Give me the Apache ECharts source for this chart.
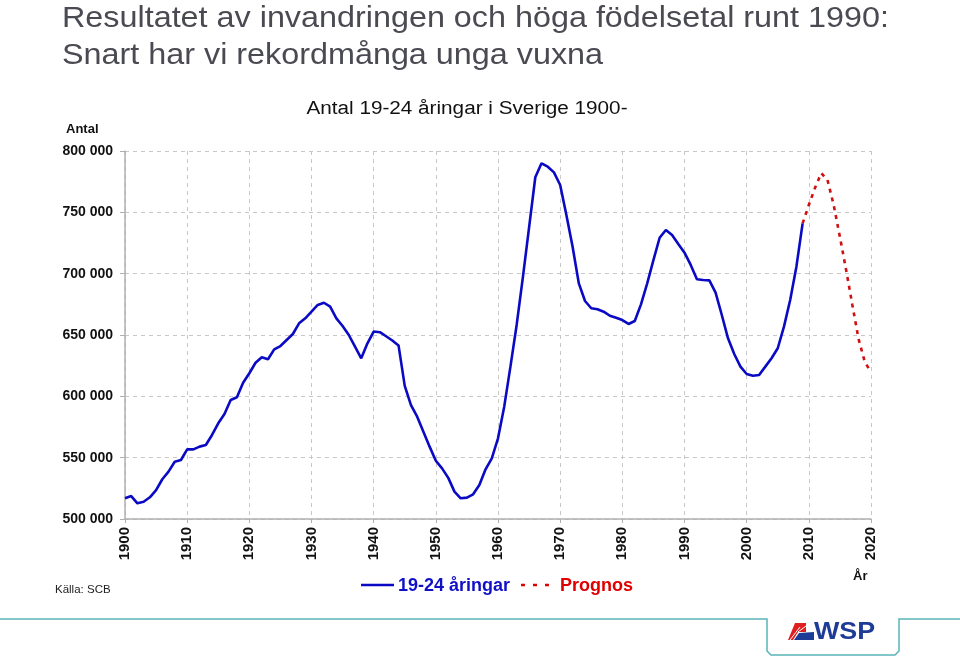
<!DOCTYPE html>
<html>
<head>
<meta charset="utf-8">
<script src="https://cdn.jsdelivr.net/npm/echarts@6/dist/echarts.min.js"></script>
<style>
html,body{margin:0;padding:0;background:#fff;}
#chart{width:960px;height:659px;}
</style>
</head>
<body>
<div id="chart"></div>
<script>
// ---- data ----
const actualStartYear = 1900;
const actualValues = [
  517000, 518700, 512800, 514100, 517700, 523600, 532400, 538600, 546700, 548100,
  556800, 556800, 559000, 560300, 568500, 578000, 585600, 597000, 599200, 611100,
  618800, 627400, 631800, 630200, 638300, 641000, 645900, 650800, 659500, 663600,
  669000, 674500, 676300, 673100, 663600, 657300, 650000, 640500, 631000, 643200,
  652800, 652300, 649000, 645500, 641500, 608500, 592900, 583400, 571200, 559000,
  547500, 541300, 533500, 522300, 516900, 517400, 520100, 527700, 540500, 549500,
  565800, 591600, 624200, 658200, 697000, 737800, 778600, 790000, 787200, 782600,
  772300, 747800, 722000, 692100, 677700, 671800, 671000, 669000, 665700, 664100,
  662200, 659000, 661400, 675000, 692100, 711100, 729300, 735600, 731500, 724200,
  717100, 707100, 695400, 694800, 694500, 684500, 666300, 647300, 634500, 624200,
  618200, 616800, 617400, 624200, 631000, 639200, 656800, 678500, 705700, 741000
];
const prognosStartYear = 2009;
const prognosValues = [741000, 756000, 770000, 782000, 776400, 756000, 729900, 703000, 674500, 646800, 628000, 619800];
const xTicks = [1900, 1910, 1920, 1930, 1940, 1950, 1960, 1970, 1980, 1990, 2000, 2010, 2020];
const yTicks = [500000, 550000, 600000, 650000, 700000, 750000, 800000];

const seriesNames = ['19-24 åringar', 'Prognos'];
const titleLines = ['Resultatet av invandringen och höga födelsetal runt 1990:', 'Snart har vi rekordmånga unga vuxna'];
const chartTitle = 'Antal 19-24 åringar i Sverige 1900-';

const actualData = actualValues.map((v, i) => [actualStartYear + i, v]);
const prognosData = prognosValues.map((v, i) => [prognosStartYear + i, v]);

const FONT = '"Liberation Sans", Arial, Helvetica, sans-serif';
const BLUE = '#0a0ac4';
const RED = '#d01010';
const chart = echarts.init(document.getElementById('chart'), null, {renderer: 'canvas'});

function fmt(v) {
  return String(v).replace(/\B(?=(\d{3})+(?!\d))/g, ' ');
}

chart.setOption({
  animation: false,
  backgroundColor: '#ffffff',
  textStyle: {fontFamily: FONT},
  grid: {left: 125, right: 89, top: 151, bottom: 140, containLabel: false},
  legend: {show: false, data: seriesNames},
  xAxis: {
    type: 'value', min: 1900, max: 2020, interval: 10,
    axisLine: {show: true, lineStyle: {color: '#b0b0b0', width: 1.5}},
    axisTick: {show: true, length: 4, lineStyle: {color: '#b0b0b0'}},
    axisLabel: {
      rotate: 90, margin: 8, color: '#111', fontFamily: FONT, fontSize: 15, fontWeight: 'bold',
      formatter: v => xTicks.includes(v) ? String(v) : ''
    },
    splitLine: {show: true, lineStyle: {color: '#c8c8c8', type: [4, 4], width: 1}}
  },
  yAxis: {
    type: 'value', min: 500000, max: 800000, interval: 50000,
    axisLine: {show: true, lineStyle: {color: '#b0b0b0', width: 1.5}},
    axisTick: {show: true, length: 5, lineStyle: {color: '#b0b0b0'}},
    axisLabel: {
      margin: 12, color: '#111', fontFamily: FONT, fontSize: 14, fontWeight: 'bold',
      formatter: v => yTicks.includes(v) ? fmt(v) : ''
    },
    splitLine: {show: true, lineStyle: {color: '#c8c8c8', type: [4, 4], width: 1}}
  },
  series: [
    {
      name: seriesNames[0], type: 'line', data: actualData,
      symbol: 'none', smooth: false,
      lineStyle: {color: BLUE, width: 2.6},
      itemStyle: {color: BLUE},
      z: 3
    },
    {
      name: seriesNames[1], type: 'line', data: prognosData,
      symbol: 'none', smooth: false,
      lineStyle: {color: RED, width: 2.6, type: [4, 5]},
      itemStyle: {color: RED},
      z: 2
    }
  ],
  graphic: [
    // slide title
    {type: 'text', x: 62, y: 4, scaleX: 1.115, originX: 0,
      style: {text: titleLines[0], font: '29px ' + FONT, fill: '#4a4a52'}},
    {type: 'text', x: 62, y: 41, scaleX: 1.115, originX: 0,
      style: {text: titleLines[1], font: '29px ' + FONT, fill: '#4a4a52'}},
    // chart title
    {type: 'text', x: 467, y: 100, scaleX: 1.15, originX: 0,
      style: {text: chartTitle, font: '18px ' + FONT, fill: '#111', align: 'center'}},
    {type: 'text', left: 66, top: 123, style: {text: 'Antal', font: 'bold 13px ' + FONT, fill: '#111'}},
    {type: 'text', left: 853, top: 570, style: {text: 'År', font: 'bold 13px ' + FONT, fill: '#111'}},
    {type: 'text', left: 55, top: 584, style: {text: 'Källa: SCB', font: '11.5px ' + FONT, fill: '#222'}},
    // legend
    {type: 'line', shape: {x1: 361, y1: 585, x2: 394, y2: 585}, style: {stroke: BLUE, lineWidth: 2.6}},
    {type: 'text', x: 398, y: 577, style: {text: seriesNames[0], font: 'bold 18px ' + FONT, fill: '#1010c8'}},
    {type: 'line', shape: {x1: 521, y1: 585, x2: 556, y2: 585}, style: {stroke: '#e00000', lineWidth: 2.4, lineDash: [4, 8]}},
    {type: 'text', x: 560, y: 577, style: {text: seriesNames[1], font: 'bold 18px ' + FONT, fill: '#e00000'}},
    // footer line
    {
      type: 'polyline', silent: true,
      shape: {points: [[0, 619], [767, 619], [767, 651], [771, 655], [895, 655], [899, 651], [899, 619], [960, 619]]},
      style: {stroke: '#5ab4b8', lineWidth: 1.5, fill: null}
    },
    // WSP logo icon
    {type: 'polygon', shape: {points: [[788, 640], [795, 623], [806, 623], [806, 632], [798, 632], [793, 640]]}, style: {fill: '#e02020'}},
    {type: 'polygon', shape: {points: [[794, 640], [799, 633], [814, 632], [814, 640]]}, style: {fill: '#1e3c96'}},
    {type: 'line', shape: {x1: 790, y1: 640, x2: 800, y2: 627}, style: {stroke: '#ffffff', lineWidth: 1}},
    {type: 'line', shape: {x1: 798, y1: 632, x2: 806, y2: 626}, style: {stroke: '#ffffff', lineWidth: 1}},
    {type: 'text', x: 814, y: 620, scaleX: 1.12, style: {text: 'WSP', font: 'bold 24px ' + FONT, fill: '#1e3c96'}}
  ]
});
</script>
</body>
</html>
